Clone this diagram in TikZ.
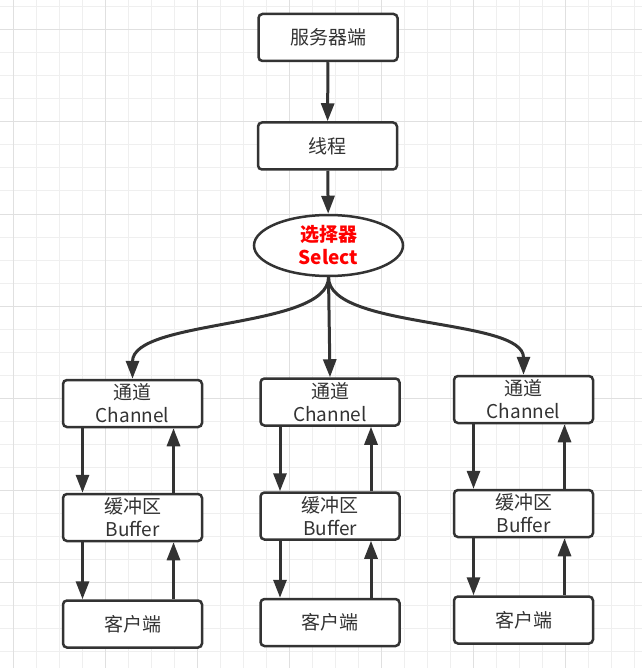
\documentclass[tikz,border=0pt]{standalone}
\usepackage{fontspec}
\newfontfamily\cjk{Noto Sans CJK SC}
\usetikzlibrary{arrows.meta, shapes.geometric}
\definecolor{ink}{HTML}{333333}
\definecolor{gridminor}{HTML}{EFEFEF}
\definecolor{gridmajor}{HTML}{E0E0E0}
\newcommand{\boxfont}{\cjk\fontsize{19}{23}\selectfont}

\begin{document}
\begin{tikzpicture}[x=1pt, y=-1pt,
	box/.style={draw=ink, fill=white, line width=2.5pt, rounded corners=4pt, minimum width=139pt, minimum height=47pt, inner sep=0pt, align=center, text=ink, font=\boxfont},
	selbox/.style={ellipse, draw=ink, fill=white, line width=2.5pt, minimum width=149pt, minimum height=61pt, inner sep=0pt, align=center, text=red, font=\boxfont\bfseries},
	link/.style={draw=ink, line width=3pt, -{Triangle[length=18pt, width=13pt]}}]
	\useasboundingbox (0,0) rectangle (642,668);
	\fill[white] (0,0) rectangle (642,668);
	\foreach \g in {13,36,...,642} \draw[gridminor, line width=1pt] (\g,0) -- (\g,668);
	\foreach \g in {7,30,...,668} \draw[gridminor, line width=1pt] (0,\g) -- (642,\g);
	\foreach \g in {13,105,...,642} \draw[gridmajor, line width=1pt] (\g,0) -- (\g,668);
	\foreach \g in {30,122,...,668} \draw[gridmajor, line width=1pt] (0,\g) -- (642,\g);

	\node[box] (server) at (328,37.5) {服务器端};
	\node[box] (thread) at (327.5,146) {线程};
	\node[selbox] (sel) at (328.5,245.5) {选择器\\Select};
	\draw[link] (server) -- (thread);
	\draw[link] (thread) -- (sel);

	\foreach \i/\x/\y in {1/132.5/403.5, 2/330/402, 3/523.5/399.5} {
		\node[box] (ch\i) at (\x,\y) {通道\\Channel};
		\node[box] (buf\i) at (\x,\y+114) {缓冲区\\Buffer};
		\node[box] (cli\i) at (\x,\y+220.5) {客户端};
		\draw[link] ([xshift=-50pt]ch\i.south) -- ([xshift=-50pt]buf\i.north);
		\draw[link] ([xshift=41pt]buf\i.north) -- ([xshift=41pt]ch\i.south);
		\draw[link] ([xshift=-50pt]buf\i.south) -- ([xshift=-50pt]cli\i.north);
		\draw[link] ([xshift=41pt]cli\i.north) -- ([xshift=41pt]buf\i.south);
	}

	\draw[link] (sel.south) .. controls +(0,52) and +(0,-60) .. (ch1.north);
	\draw[link] (sel.south) -- (ch2.north);
	\draw[link] (sel.south) .. controls +(0,52) and +(0,-57) .. (ch3.north);
\end{tikzpicture}
\end{document}
